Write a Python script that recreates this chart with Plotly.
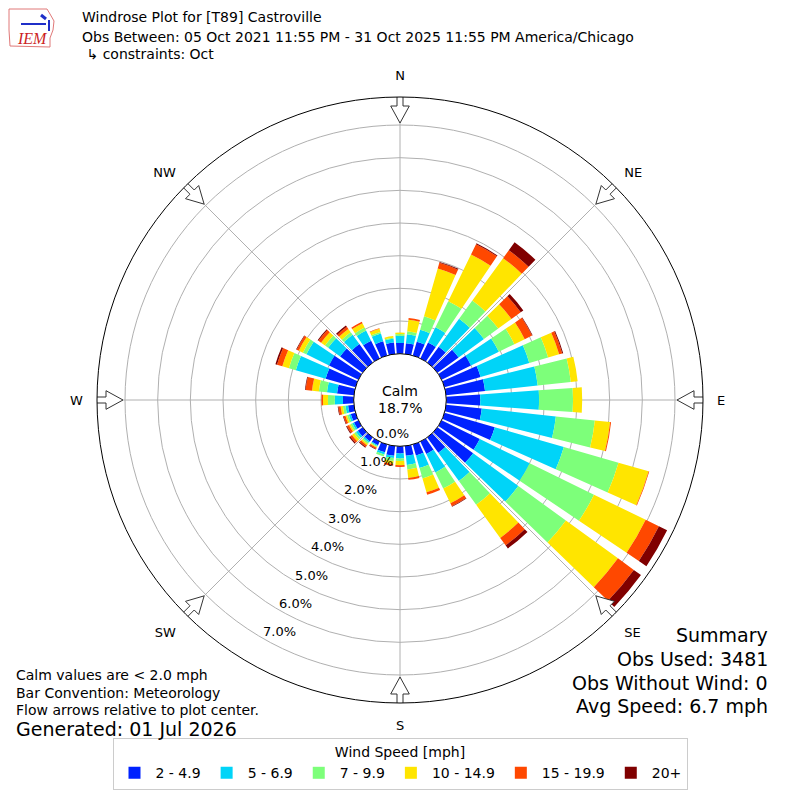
import numpy as np
import plotly.graph_objects as go

# wind direction bins (degrees, meteorological convention)
directions = list(range(0, 360, 10))

speed_bins = ["2 - 4.9", "5 - 6.9", "7 - 9.9", "10 - 14.9", "15 - 19.9", "20+"]
bin_colors = ["#0022ff", "#00d4f8", "#7dff7a", "#ffe500", "#ff4800", "#800000"]

# frequency (%) per direction for each speed bin
pct_2_5 = [0.33, 0.33, 0.44, 0.54, 0.60, 0.80, 1.00, 1.15, 1.20, 1.04, 1.10, 1.60,
           1.30, 1.35, 0.58, 0.42, 0.35, 0.30, 0.22, 0.30, 0.25, 0.12, 0.15, 0.18,
           0.15, 0.15, 0.18, 0.33, 0.52, 0.95, 1.00, 0.85, 0.70, 0.60, 0.45, 0.35]
pct_5_7 = [0.22, 0.28, 0.38, 0.52, 1.06, 0.96, 0.95, 1.55, 1.62, 1.80, 2.28, 2.20,
           1.70, 1.71, 1.07, 0.63, 0.40, 0.28, 0.15, 0.07, 0.07, 0.03, 0.05, 0.07,
           0.06, 0.06, 0.08, 0.25, 0.31, 0.95, 0.77, 0.45, 0.35, 0.35, 0.25, 0.12]
pct_7_10 = [0.05, 0.09, 0.43, 0.89, 0.69, 0.54, 0.53, 0.60, 1.02, 1.04, 1.20, 1.74,
            2.19, 1.80, 0.90, 0.55, 0.33, 0.14, 0.08, 0.09, 0.06, 0.03, 0.05, 0.07,
            0.06, 0.06, 0.08, 0.21, 0.25, 0.22, 0.12, 0.12, 0.10, 0.10, 0.05, 0.03]
pct_10_15 = [0.05, 0.35, 1.52, 1.59, 1.60, 0.50, 0.35, 0.35, 0.21, 0.28, 0.47, 0.96,
             1.76, 1.97, 1.25, 0.50, 0.44, 0.26, 0.13, 0.09, 0.00, 0.03, 0.05, 0.08,
             0.05, 0.05, 0.07, 0.15, 0.21, 0.21, 0.14, 0.15, 0.12, 0.15, 0.10, 0.05]
pct_15_20 = [0.00, 0.06, 0.18, 0.35, 0.30, 0.35, 0.25, 0.10, 0.00, 0.00, 0.03, 0.02,
             0.45, 0.60, 0.28, 0.10, 0.08, 0.06, 0.05, 0.06, 0.00, 0.04, 0.06, 0.07,
             0.07, 0.06, 0.07, 0.05, 0.20, 0.17, 0.07, 0.10, 0.08, 0.05, 0.02, 0.00]
pct_20_up = [0.00, 0.00, 0.03, 0.03, 0.30, 0.10, 0.02, 0.03, 0.00, 0.00, 0.00, 0.00,
             0.28, 0.27, 0.12, 0.02, 0.00, 0.00, 0.00, 0.00, 0.00, 0.02, 0.03, 0.04,
             0.03, 0.02, 0.02, 0.00, 0.02, 0.05, 0.02, 0.03, 0.05, 0.00, 0.00, 0.00]

series = [pct_2_5, pct_5_7, pct_7_10, pct_10_15, pct_15_20, pct_20_up]

compass_angles = [0, 45, 90, 135, 180, 225, 270, 315]
compass_labels = ["N", "NE", "E", "SE", "S", "SW", "W", "NW"]
radial_ticks = [0, 1, 2, 3, 4, 5, 6, 7]
radial_labels = ["%.1f%%" % v for v in radial_ticks]

W = 800
OFF = 8            # page body margin around the plot div
CX = CY = 400      # plot center on the page
R_OUT = 303.0      # px, outer circle
R_HOLE = 46.3      # px, calm circle
PX_PER_PCT = 32.67
R_MAX = (R_OUT - R_HOLE) / PX_PER_PCT
LABEL_BEARING = 209.8


def px(x):
    return (x - OFF) / W


def py(y):
    return 1 - (y - OFF) / W


fig = go.Figure()

for name, color, vals in zip(speed_bins, bin_colors, series):
    fig.add_trace(go.Barpolar(
        r=vals, theta=directions, width=8, name=name,
        marker=dict(color=color, line=dict(width=0)),
    ))

# hollow flow arrows pointing at the plot center
arrow_shape = [(277, 0), (294, -9.3), (294, -3), (306, -3), (306, 3), (294, 3), (294, 9.3), (277, 0)]
for ang in compass_angles:
    rr, tt = [], []
    for along, lat in arrow_shape:
        rr.append((np.hypot(along, lat) - R_HOLE) / PX_PER_PCT)
        tt.append(ang + np.degrees(np.arctan2(lat, along)))
    fig.add_trace(go.Scatterpolar(
        r=rr, theta=tt, mode="lines", fill="toself", fillcolor="white",
        line=dict(color="#333333", width=1), showlegend=False, hoverinfo="skip",
    ))

fig.update_layout(
    width=W, height=W,
    margin=dict(l=0, r=0, t=0, b=0),
    paper_bgcolor="white",
    font=dict(family="DejaVu Sans", color="black", size=13),
    polar=dict(
        domain=dict(x=[px(CX - R_OUT), px(CX + R_OUT)],
                    y=[py(CY + R_OUT), py(CY - R_OUT)]),
        hole=R_HOLE / R_OUT,
        bgcolor="white",
        barmode="stack",
        radialaxis=dict(
            range=[0, R_MAX], tickvals=radial_ticks, showticklabels=False,
            showline=False, ticks="", gridcolor="#b0b0b0", gridwidth=1,
        ),
        angularaxis=dict(
            rotation=90, direction="clockwise",
            tickvals=compass_angles, ticktext=compass_labels,
            showline=True, linecolor="black", linewidth=1,
            gridcolor="#b0b0b0", gridwidth=1,
            ticks="outside", ticklen=11, tickcolor="rgba(0,0,0,0)",
            tickfont=dict(size=13),
        ),
    ),
    legend=dict(
        orientation="h", x=px(400), xanchor="center", y=py(790), yanchor="bottom",
        title=dict(text="Wind Speed [mph]", side="top center", font=dict(size=14)),
        bordercolor="#cccccc", borderwidth=1, bgcolor="white",
        font=dict(size=14), itemwidth=32,
    ),
)


def note(text, x, y, size, xanchor="left", **kw):
    fig.add_annotation(text=text, x=px(x), y=py(y), xref="paper", yref="paper",
                       xanchor=xanchor, yanchor="middle", showarrow=False,
                       font=dict(size=size, **kw))


# radial tick labels, horizontal like the original, along the SSW spoke
b = np.radians(LABEL_BEARING)
for v, lab in zip(radial_ticks, radial_labels):
    r_px = R_HOLE + v * PX_PER_PCT
    note(lab, CX + r_px * np.sin(b) + 15.9, CY - r_px * np.cos(b) - 6.9, 13, xanchor="center")

# IEM logo (state outline, blue glyph, red italic text)
outline = [(9, 9), (47, 9), (50, 14), (54, 21), (53, 30), (50, 38), (50, 47), (10, 46), (9, 30), (9, 15)]
fig.add_shape(type="path", xref="paper", yref="paper",
              path="M " + " L ".join("{:.5f} {:.5f}".format(px(x), py(y)) for x, y in outline) + " Z",
              line=dict(color="#e07878", width=1))
fig.add_shape(type="line", xref="paper", yref="paper", x0=px(21), y0=py(24), x1=px(46), y1=py(24),
              line=dict(color="#1f2fc8", width=2))
fig.add_shape(type="line", xref="paper", yref="paper", x0=px(49), y0=py(20), x1=px(49), y1=py(31),
              line=dict(color="#1f2fc8", width=2))
fig.add_shape(type="line", xref="paper", yref="paper", x0=px(41), y0=py(15), x1=px(46), y1=py(19),
              line=dict(color="#1f2fc8", width=3))
note("IEM", 32, 39, 16, xanchor="center", color="#cc1f1f", family="Liberation Serif", style="italic")

note("Windrose Plot for [T89] Castroville", 80, 17, 14)
note("Obs Between: 05 Oct 2021 11:55 PM - 31 Oct 2025 11:55 PM America/Chicago", 80, 37, 14)
note(" ↳ constraints: Oct", 80, 54, 14)

note("Calm", 400, 391, 14, xanchor="center")
note("18.7%", 400, 408, 14, xanchor="center")

note("Calm values are < 2.0 mph", 14, 675, 14)
note("Bar Convention: Meteorology", 14, 693, 14)
note("Flow arrows relative to plot center.", 14, 710, 14)
note("Generated: 01 Jul 2026", 14, 729, 19)

note("Summary", 770, 635, 19, xanchor="right")
note("Obs Used: 3481", 770, 659, 19, xanchor="right")
note("Obs Without Wind: 0", 770, 683, 19, xanchor="right")
note("Avg Speed: 6.7 mph", 770, 706, 19, xanchor="right")

fig.write_html("out.html")
